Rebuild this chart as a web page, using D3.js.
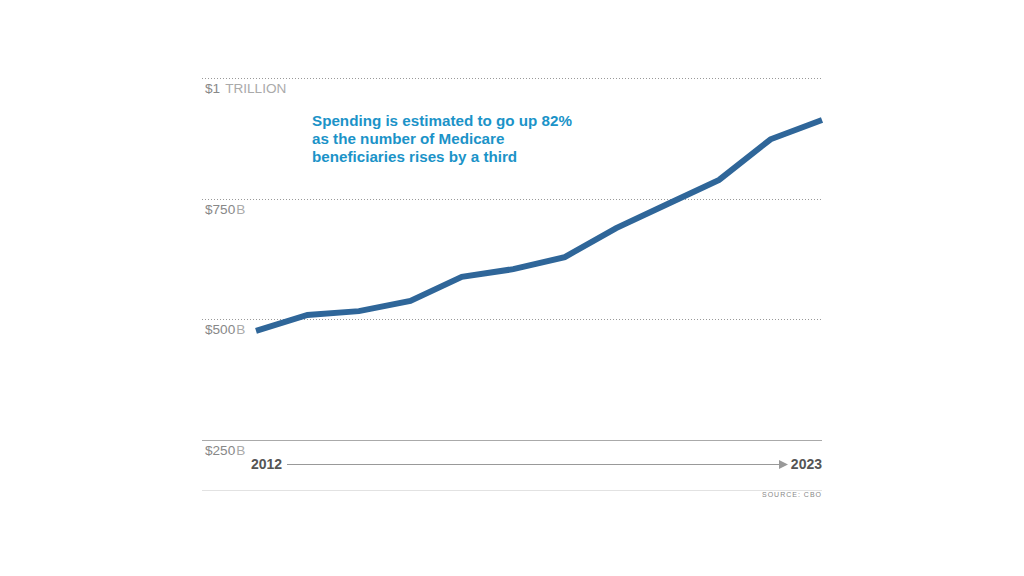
<!DOCTYPE html>
<html><head><meta charset="utf-8">
<script src="https://cdn.jsdelivr.net/npm/d3@7"></script>
<style>body{margin:0;background:#fff}svg{display:block}</style>
</head><body>
<svg id="c" width="1024" height="576"></svg>
<script>
const years = [2012,2013,2014,2015,2016,2017,2018,2019,2020,2021,2022,2023];
const spending = [476,509,517,538,588,604,629,689,739,789,873,913];
const tickValues = [250,500,750,1000];
const tickMain = ["$250","$500","$750","$1"];
const tickUnit = ["B","B","B","TRILLION"];
const note = ["Spending is estimated to go up 82%","as the number of Medicare","beneficiaries rises by a third"];
const source = "SOURCE: CBO";

const svg = d3.select("#c");
const font = "Arial, 'Liberation Sans', sans-serif";
const x = d3.scaleLinear().domain([2012,2023]).range([256,822]);
const y = d3.scaleLinear().domain([250,1000]).range([440,78]);
const L = 202, R = 822;

// gridlines
tickValues.forEach((v,i)=>{
  const yy = Math.round(y(v))+0.5;
  svg.append("line").attr("x1",L).attr("x2",R).attr("y1",yy).attr("y2",yy)
    .attr("stroke", i===0 ? "#aaa" : "#999")
    .attr("stroke-width",1)
    .attr("stroke-dasharray", i===0 ? null : "1,2");
  const t = svg.append("text").attr("x",205).attr("y",yy+14)
    .attr("font-family",font).attr("font-size",13.6);
  t.append("tspan").attr("fill","#888").text(tickMain[i]);
  t.append("tspan").attr("fill","#aaa").attr("dx", i===3?5:1).text(tickUnit[i]);
});

// line
svg.append("path").datum(years.map((d,i)=>[d,spending[i]]))
  .attr("fill","none").attr("stroke","#2f6699").attr("stroke-width",6)
  .attr("stroke-linejoin","miter")
  .attr("d", d3.line().x(d=>x(d[0])).y(d=>y(d[1])));

// annotation
const a = svg.append("text").attr("font-family",font).attr("font-size",15.2)
  .attr("font-weight","bold").attr("fill","#1b93c8");
note.forEach((s,i)=>a.append("tspan").attr("x",312).attr("y",126+i*18).text(s));

// year axis
svg.append("text").attr("x",251).attr("y",469).attr("font-family",font)
  .attr("font-size",14).attr("font-weight","bold").attr("fill","#555").text(years[0]);
svg.append("text").attr("x",822).attr("y",469).attr("text-anchor","end").attr("font-family",font)
  .attr("font-size",14).attr("font-weight","bold").attr("fill","#555").text(years[years.length-1]);
svg.append("line").attr("x1",287).attr("x2",780).attr("y1",464.5).attr("y2",464.5)
  .attr("stroke","#999").attr("stroke-width",1);
svg.append("path").attr("d","M779,460 L788,464.5 L779,469 Z").attr("fill","#999");

// bottom rule and source
svg.append("line").attr("x1",L).attr("x2",R).attr("y1",490.5).attr("y2",490.5)
  .attr("stroke","#e2e2e2").attr("stroke-width",1);
svg.append("text").attr("x",822).attr("y",497).attr("text-anchor","end")
  .attr("font-family",font).attr("font-size",7).attr("letter-spacing",1.0)
  .attr("fill","#888").text(source);
</script>
</body></html>
